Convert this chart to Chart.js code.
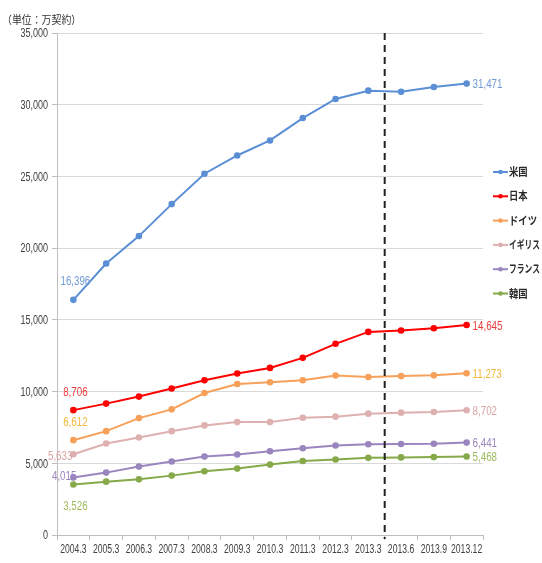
<!DOCTYPE html>
<html>
<head>
<meta charset="utf-8">
<script src="https://cdn.jsdelivr.net/npm/chart.js"></script>
<style>
  html, body { margin: 0; padding: 0; background: #fff; }
  #wrap { width: 542px; height: 563px; position: relative; }
</style>
</head>
<body>
<div id="wrap"><canvas id="chart" width="542" height="563"></canvas></div>
<script>
// Contracts by country (unit: 10,000 contracts)
const periods = ["2004.3", "2005.3", "2006.3", "2007.3", "2008.3", "2009.3", "2010.3",
                 "2011.3", "2012.3", "2013.3", "2013.6", "2013.9", "2013.12"];
const countries = ["米国", "日本", "ドイツ", "イギリス", "フランス", "韓国"];
const usa     = [16396, 18930, 20840, 23070, 25190, 26460, 27510, 29070, 30400, 30980, 30900, 31230, 31471];
const japan   = [8706, 9160, 9650, 10210, 10790, 11260, 11650, 12350, 13330, 14160, 14260, 14410, 14645];
const germany = [6612, 7240, 8150, 8760, 9900, 10530, 10650, 10790, 11120, 11020, 11080, 11130, 11273];
const uk      = [5633, 6380, 6800, 7240, 7640, 7870, 7870, 8180, 8250, 8460, 8530, 8580, 8702];
const france  = [4015, 4350, 4770, 5120, 5470, 5610, 5840, 6050, 6240, 6330, 6340, 6360, 6441];
const korea   = [3526, 3720, 3880, 4140, 4440, 4630, 4910, 5160, 5260, 5380, 5410, 5430, 5468];
const yTicks  = [0, 5000, 10000, 15000, 20000, 25000, 30000, 35000];

const lineColors  = ["#5b8fd5", "#ff0000", "#f7a05a", "#deb0b0", "#9a86bf", "#86a94a"];
const labelColors = ["#6f9ad4", "#f03a3a", "#f2b83a", "#d9a4a4", "#9a86bf", "#9dbb5c"];
// where the first value label sits relative to its point: [dx, dy, align]
const startLabelPos = [[2, -18, "center"], [2, -18, "center"], [2, -18, "center"],
                       [-1, 2, "right"], [3, -1, "right"], [2, 22, "center"]];

const seriesData = [usa, japan, germany, uk, france, korea];
const latin = "'Liberation Sans', Arial, sans-serif";
const cjk = "'Noto Sans CJK JP', sans-serif";
const fmt = v => v.toLocaleString("en-US");

// text squeezed horizontally by sx, optionally capped to maxW pixels
function narrowText(ctx, text, x, y, align, sx, maxW) {
  ctx.save();
  ctx.translate(x, y);
  ctx.scale(sx, 1);
  ctx.textAlign = align;
  if (maxW) ctx.fillText(text, 0, 0, maxW / sx);
  else ctx.fillText(text, 0, 0);
  ctx.restore();
}

const datasets = countries.map((name, i) => ({
  label: name,
  data: seriesData[i],
  borderColor: lineColors[i],
  backgroundColor: lineColors[i],
  borderWidth: 2,
  pointRadius: 2.3,
  pointHoverRadius: 2.3,
  tension: 0
}));

// first / last value labels
const valueLabels = {
  id: "valueLabels",
  afterDatasetsDraw(chart) {
    const ctx = chart.ctx;
    ctx.save();
    ctx.font = "13px " + latin;
    ctx.textBaseline = "middle";
    chart.data.datasets.forEach((ds, i) => {
      const pts = chart.getDatasetMeta(i).data;
      const first = pts[0], last = pts[pts.length - 1];
      const [dx, dy, align] = startLabelPos[i];
      ctx.fillStyle = labelColors[i];
      narrowText(ctx, fmt(ds.data[0]), first.x + dx, first.y + dy, align, 0.75);
      narrowText(ctx, fmt(ds.data[ds.data.length - 1]), last.x + 6, last.y + 1, "left", 0.75);
    });
    ctx.restore();
  }
};

// dashed divider between 2013.3 and 2013.6
const divider = {
  id: "divider",
  afterDatasetsDraw(chart) {
    const x = chart.scales.x;
    const px = (x.getPixelForValue(9) + x.getPixelForValue(10)) / 2;
    const ctx = chart.ctx;
    ctx.save();
    ctx.strokeStyle = "#222";
    ctx.lineWidth = 2;
    ctx.setLineDash([7, 5]);
    ctx.beginPath();
    ctx.moveTo(px, chart.chartArea.top);
    ctx.lineTo(px, chart.chartArea.bottom + 4);
    ctx.stroke();
    ctx.restore();
  }
};

// axis labels, unit caption and legend
const extras = {
  id: "extras",
  afterDraw(chart) {
    const ctx = chart.ctx;
    const xs = chart.scales.x, ys = chart.scales.y;
    ctx.save();
    ctx.textBaseline = "middle";
    ctx.fillStyle = "#404040";
    ctx.font = "12px " + latin;
    periods.forEach((p, i) => narrowText(ctx, p, xs.getPixelForValue(i), 550, "center", 0.72));
    yTicks.forEach(v => narrowText(ctx, fmt(v), 48, ys.getPixelForValue(v) + 1, "right", 0.75));

    ctx.fillStyle = "#333";
    ctx.font = "11px " + cjk;
    narrowText(ctx, "（単位：万契約）", 2, 20, "left", 0.9);

    ctx.font = "bold 11px " + cjk;
    chart.data.datasets.forEach((ds, i) => {
      const y = 172 + i * 24.3;
      ctx.strokeStyle = ds.borderColor;
      ctx.lineWidth = 2;
      ctx.beginPath();
      ctx.moveTo(493, y);
      ctx.lineTo(508, y);
      ctx.stroke();
      ctx.fillStyle = ds.borderColor;
      ctx.beginPath();
      ctx.arc(500.5, y, 2.3, 0, Math.PI * 2);
      ctx.fill();
      ctx.fillStyle = "#2a2a2a";
      narrowText(ctx, ds.label, 509, y, "left", 0.85, 31);
    });
    ctx.restore();
  }
};

new Chart(document.getElementById("chart"), {
  type: "line",
  data: { labels: periods, datasets },
  options: {
    responsive: false,
    animation: false,
    layout: { padding: { top: 33, right: 59, left: 0, bottom: 0 } },
    plugins: { legend: { display: false }, tooltip: { enabled: false } },
    scales: {
      x: {
        offset: true,
        grid: { offset: true, drawOnChartArea: false, drawTicks: true, tickLength: 5, color: "#bfbfbf" },
        border: { color: "#bfbfbf" },
        ticks: { color: "rgba(0,0,0,0)", font: { size: 8 }, maxRotation: 0, autoSkip: false },
        afterFit(s) { s.height = 28; }
      },
      y: {
        min: 0,
        max: 35000,
        afterBuildTicks(s) { s.ticks = yTicks.map(v => ({ value: v })); },
        grid: { color: "#d9d9d9", tickLength: 5, tickColor: "#bfbfbf" },
        border: { color: "#bfbfbf" },
        ticks: { color: "rgba(0,0,0,0)", font: { size: 8 } },
        afterFit(s) { s.width = 57; }
      }
    }
  },
  plugins: [valueLabels, divider, extras]
});
</script>
</body>
</html>
